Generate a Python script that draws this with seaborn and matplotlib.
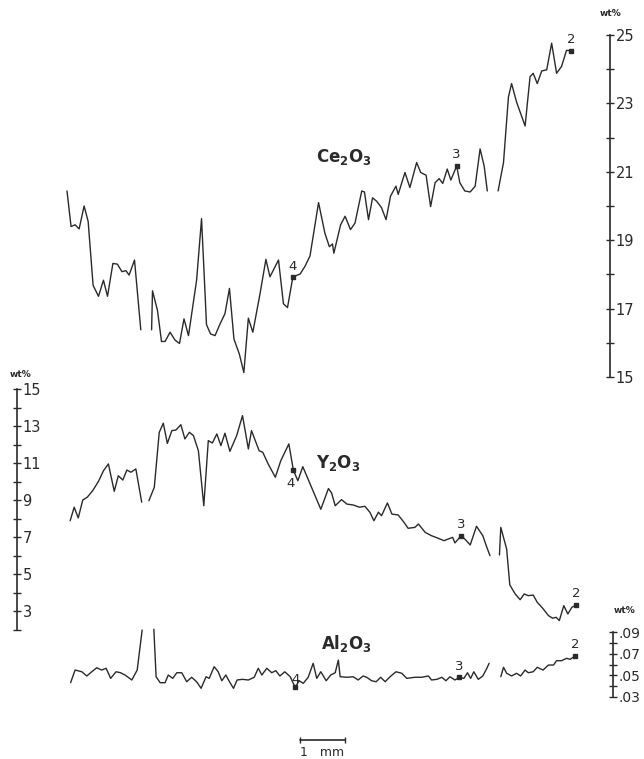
import numpy as np
import pandas as pd
import matplotlib
matplotlib.use('Agg')
import matplotlib.pyplot as plt
from matplotlib.ticker import FixedLocator, FixedFormatter
import seaborn as sns

# distance along the traverse (mm) and concentration (wt%)
ce_mm = [0.00, 0.09, 0.18, 0.27, 0.38, 0.47, 0.58, 0.70, 0.81, 0.90, 1.02, 1.12, 1.22, 1.31, 1.38, 1.50, 1.64,
         1.88, 1.90, 2.01, 2.10, 2.18, 2.29, 2.40, 2.50, 2.60, 2.70, 2.88, 2.99, 3.10, 3.19, 3.29, 3.40, 3.51, 3.61,
         3.71, 3.83, 3.93, 4.03, 4.13, 4.29, 4.42, 4.51, 4.70, 4.81, 4.90, 5.02, 5.18, 5.29, 5.40, 5.59, 5.73, 5.83,
         5.90, 5.93, 6.08, 6.18, 6.30, 6.40, 6.55, 6.61, 6.70, 6.79, 6.88, 6.99, 7.09, 7.19, 7.31, 7.36, 7.51, 7.62,
         7.77, 7.86, 7.98, 8.08, 8.18, 8.27, 8.35, 8.45, 8.53, 8.66, 8.73, 8.84, 8.96, 9.07, 9.18, 9.27, 9.34,
         9.58, 9.70, 9.81, 9.88, 9.99, 10.18, 10.29, 10.36, 10.45, 10.55, 10.66, 10.77, 10.88, 10.99, 11.10, 11.21]
ce_wt = [20.44, 19.40, 19.45, 19.33, 20.00, 19.55, 17.68, 17.36, 17.83, 17.36, 18.32, 18.30, 18.08, 18.11, 17.98, 18.42, 16.38,
         16.38, 17.52, 16.95, 16.04, 16.04, 16.31, 16.08, 15.98, 16.70, 16.21, 17.83, 19.63, 16.53, 16.26, 16.21, 16.55,
         16.85, 17.59, 16.11, 15.67, 15.13, 16.72, 16.31, 17.44, 18.44, 17.93, 18.42, 17.14, 17.03, 17.93, 18.01, 18.24,
         18.54, 20.10, 19.21, 18.81, 18.89, 18.62, 19.45, 19.70, 19.31, 19.50, 20.44, 20.41, 19.60, 20.24, 20.14, 19.95,
         19.60, 20.29, 20.58, 20.34, 20.98, 20.54, 21.27, 20.98, 20.90, 19.98, 20.68, 20.80, 20.66, 21.08, 20.76, 21.17,
         20.68, 20.44, 20.41, 20.58, 21.67, 21.17, 20.44,
         20.44, 21.27, 23.19, 23.58, 23.04, 22.34, 23.78, 23.88, 23.58, 23.95, 23.98, 24.76, 23.88, 24.08, 24.55, 24.54]

y_mm = [0.07, 0.16, 0.25, 0.35, 0.45, 0.57, 0.70, 0.81, 0.92, 1.05, 1.14, 1.24, 1.33, 1.42, 1.53, 1.66,
        1.82, 1.94, 2.05, 2.14, 2.23, 2.33, 2.42, 2.53, 2.62, 2.72, 2.81, 2.92, 3.04, 3.14, 3.23, 3.33, 3.42, 3.51,
        3.62, 3.77, 3.90, 4.03, 4.10, 4.27, 4.35, 4.47, 4.63, 4.75, 4.93, 5.03, 5.13, 5.24, 5.44, 5.64, 5.81, 5.88,
        5.96, 6.10, 6.22, 6.36, 6.50, 6.62, 6.73, 6.82, 6.92, 6.99, 7.12, 7.22, 7.36, 7.49, 7.58, 7.73, 7.81, 7.96,
        8.10, 8.25, 8.38, 8.47, 8.57, 8.62, 8.76, 8.84, 8.96, 9.10, 9.24, 9.33, 9.40,
        9.61, 9.64, 9.77, 9.84, 9.96, 10.07, 10.16, 10.25, 10.36, 10.45, 10.57, 10.70, 10.79, 10.87, 10.94, 11.04,
        11.13, 11.22, 11.31]
y_wt = [7.88, 8.61, 8.03, 9.00, 9.15, 9.50, 10.01, 10.58, 10.95, 9.47, 10.31, 10.08, 10.62, 10.50, 10.68, 8.88,
        8.96, 9.69, 12.66, 13.15, 12.06, 12.75, 12.78, 13.07, 12.30, 12.66, 12.48, 11.66, 8.69, 12.21, 12.08, 12.57,
        11.94, 12.61, 11.63, 12.48, 13.56, 11.76, 12.75, 11.66, 11.58, 10.95, 10.23, 11.12, 12.03, 10.62, 10.04, 10.80,
        9.65, 8.50, 9.62, 9.38, 8.69, 9.02, 8.78, 8.73, 8.61, 8.66, 8.34, 7.88, 8.34, 8.15, 8.84, 8.24, 8.19, 7.79,
        7.47, 7.52, 7.70, 7.25, 7.07, 6.93, 6.80, 6.89, 6.98, 6.68, 7.07, 6.89, 6.57, 7.58, 7.07, 6.44, 5.99,
        6.03, 7.52, 6.35, 4.41, 3.92, 3.61, 3.92, 3.83, 3.86, 3.47, 3.15, 2.75, 2.61, 2.66, 2.48, 3.29, 2.84, 3.20, 3.32]

al_mm = [0.08, 0.18, 0.33, 0.44, 0.55, 0.66, 0.77, 0.87, 0.97, 1.09, 1.19, 1.29, 1.44, 1.56, 1.67,
         1.93, 1.98, 2.07, 2.18, 2.25, 2.35, 2.44, 2.55, 2.66, 2.77, 2.88, 2.98, 3.09, 3.16, 3.27, 3.36, 3.44, 3.53,
         3.61, 3.70, 3.78, 3.90, 4.03, 4.16, 4.25, 4.33, 4.44, 4.55, 4.64, 4.73, 4.84, 4.96, 5.07, 5.16, 5.25, 5.36,
         5.47, 5.55, 5.64, 5.76, 5.86, 5.96, 6.03, 6.07, 6.22, 6.36, 6.47, 6.58, 6.66, 6.77, 6.87, 6.97, 7.07, 7.18,
         7.31, 7.44, 7.55, 7.73, 7.88, 8.03, 8.10, 8.22, 8.33, 8.42, 8.51, 8.62, 8.72, 8.82, 8.90, 8.97, 9.04, 9.14,
         9.24, 9.33, 9.38,
         9.64, 9.70, 9.77, 9.88, 9.99, 10.08, 10.18, 10.25, 10.36, 10.45, 10.58, 10.70, 10.81, 10.88, 10.99, 11.10,
         11.18, 11.29]
al_wt = [0.0432, 0.0549, 0.0533, 0.0494, 0.0533, 0.0570, 0.0549, 0.0565, 0.0472, 0.0533, 0.0524, 0.0503, 0.0457, 0.0549, 0.0918,
         0.0925, 0.0487, 0.0432, 0.0432, 0.0503, 0.0472, 0.0524, 0.0524, 0.0441, 0.0482, 0.0441, 0.0380, 0.0487, 0.0472,
         0.0580, 0.0533, 0.0450, 0.0503, 0.0441, 0.0380, 0.0457, 0.0463, 0.0457, 0.0482, 0.0565, 0.0503, 0.0565, 0.0524,
         0.0543, 0.0494, 0.0533, 0.0487, 0.0389, 0.0450, 0.0426, 0.0482, 0.0611, 0.0472, 0.0533, 0.0450, 0.0503, 0.0524,
         0.0641, 0.0487, 0.0482, 0.0487, 0.0457, 0.0494, 0.0482, 0.0450, 0.0441, 0.0482, 0.0441, 0.0487, 0.0533, 0.0519,
         0.0472, 0.0482, 0.0482, 0.0494, 0.0457, 0.0463, 0.0482, 0.0450, 0.0487, 0.0457, 0.0482, 0.0472, 0.0524, 0.0472,
         0.0533, 0.0463, 0.0494, 0.0565, 0.0611,
         0.0487, 0.0574, 0.0519, 0.0494, 0.0519, 0.0494, 0.0549, 0.0524, 0.0533, 0.0574, 0.0549, 0.0595, 0.0595, 0.0635,
         0.0635, 0.0657, 0.0648, 0.0678]

gap_mm = [1.75, 9.5]  # breaks in the traverse

# numbered analysis points
pt_labels = ['4', '3', '2']
ce_pts = [5.02, 8.66, 11.21]
y_pts = [5.03, 8.76, 11.31]
al_pts = [5.07, 8.72, 11.29]

ce_ticks = [15, 17, 19, 21, 23, 25]
ce_minor = [16, 18, 20, 22, 24]
y_ticks = [3, 5, 7, 9, 11, 13, 15]
y_minor = [2, 4, 6, 8, 10, 12, 14]
al_ticks = [0.03, 0.05, 0.07, 0.09]
al_minor = [0.04, 0.06, 0.08]
al_ticklabels = ['.03', '.05', '.07', '.09']

sns.set_theme(style='white')
plt.rcParams['font.family'] = ['DejaVu Sans']
ink = '#2a2a2a'

W, H = 644, 759
fig = plt.figure(figsize=(W / 100, H / 100), dpi=100)
fig.patch.set_facecolor('white')


def px_rect(x0, y0, x1, y1):
    return [x0 / W, 1 - y1 / H, (x1 - x0) / W, (y1 - y0) / H]


def trace_df(mm, wt):
    df = pd.DataFrame({'mm': mm, 'wt': wt})
    df['seg'] = np.digitize(df['mm'], gap_mm)
    return df


def style_axis(ax, ticks, minor, labels=None):
    ax.patch.set_alpha(0)
    for s in ['left', 'top', 'bottom']:
        ax.spines[s].set_visible(False)
    ax.spines['right'].set_color(ink)
    ax.spines['right'].set_linewidth(1.2)
    ax.spines['right'].set_bounds(min(ticks + minor), max(ticks + minor))
    ax.set_xticks([])
    ax.yaxis.tick_right()
    ax.yaxis.set_major_locator(FixedLocator(ticks))
    ax.yaxis.set_minor_locator(FixedLocator(minor))
    if labels is not None:
        ax.yaxis.set_major_formatter(FixedFormatter(labels))
    ax.tick_params(axis='y', which='both', direction='inout', length=6, width=1,
                   color=ink, labelcolor=ink, labelsize=10.5, pad=1)
    ax.set_xlabel('')
    ax.set_ylabel('')


def draw_trace(ax, mm, wt, pts, offsets, fs):
    df = trace_df(mm, wt)
    sns.lineplot(data=df, x='mm', y='wt', units='seg', estimator=None, color=ink,
                 lw=1.0, ax=ax, legend=False, clip_on=False)
    py = np.interp(pts, mm, wt)
    ax.plot(pts, py, 's', ms=2.6, color=ink, clip_on=False)
    for x, v, lab, off in zip(pts, py, pt_labels, offsets):
        ax.annotate(lab, (x, v), xytext=off, textcoords='offset points',
                    ha='center', va='center', fontsize=fs, color=ink)


# Ce2O3 (right scale, top)
ax_ce = fig.add_axes(px_rect(67, 35, 610, 377))
draw_trace(ax_ce, ce_mm, ce_wt, ce_pts, [(0, 7.5), (0, 8.5), (0, 8)], 9.5)
ax_ce.set_xlim(0, (610 - 67) / 45)
ax_ce.set_ylim(15, 25)
style_axis(ax_ce, ce_ticks, ce_minor)
ax_ce.text(6.16, 21.43, r'$\mathbf{Ce_2O_3}$', ha='center', va='center', fontsize=12, color=ink)
ax_ce.text(12.07, 25.62, 'wt%', ha='center', va='center', fontsize=6.5, color=ink, fontweight='bold')

# Y2O3 (left scale, middle)
ax_y = fig.add_axes(px_rect(17, 389, 612, 629.5))
draw_trace(ax_y, y_mm, y_wt, y_pts, [(-2, -10), (0, 8), (0, 8.5)], 9.5)
ax_y.set_xlim((17 - 67) / 45, (612 - 67) / 45)
ax_y.set_ylim(2, 15)
style_axis(ax_y, y_ticks, y_minor)
ax_y.spines['right'].set_position(('axes', 0))
ax_y.text(6.02, 11.0, r'$\mathbf{Y_2O_3}$', ha='center', va='center', fontsize=12, color=ink)
ax_y.text(-1.04, 15.78, 'wt%', ha='center', va='center', fontsize=6.5, color=ink, fontweight='bold')

# Al2O3 (right scale, bottom)
ax_al = fig.add_axes(px_rect(67, 632, 612.5, 697))
draw_trace(ax_al, al_mm, al_wt, al_pts, [(0, 6), (0, 7.5), (0, 8)], 9.5)
ax_al.set_xlim(0, (612.5 - 67) / 45)
ax_al.set_ylim(0.03, 0.09)
style_axis(ax_al, al_ticks, al_minor, al_ticklabels)
ax_al.tick_params(axis='y', which='both', labelsize=10)
ax_al.text(6.2, 0.0798, r'$\mathbf{Al_2O_3}$', ha='center', va='center', fontsize=12, color=ink)
ax_al.text(12.38, 0.1094, 'wt%', ha='center', va='center', fontsize=6.5, color=ink, fontweight='bold')

# 1 mm scale bar
bar_x = [5.18, 6.18]
ax_al.plot(bar_x, [-0.0097, -0.0097], color=ink, lw=1.2, marker='|', ms=5, clip_on=False)
ax_al.text(5.18, -0.0215, '1   mm', ha='left', va='center', fontsize=9, color=ink)

fig.savefig('out.png', dpi=100, facecolor='white')
